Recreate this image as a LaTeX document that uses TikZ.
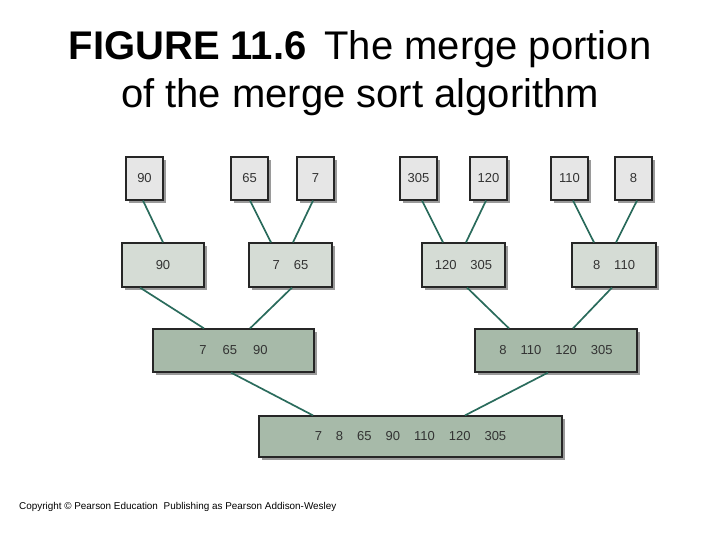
\documentclass[tikz,border=0pt]{standalone}
\usepackage{fontspec}
\setmainfont{Liberation Sans}
\usetikzlibrary{shadows}
\definecolor{boxtop}{HTML}{E6E6E6}
\definecolor{boxmid}{HTML}{D5DCD5}
\definecolor{boxlow}{HTML}{A7BAA9}
\definecolor{linkc}{HTML}{2A6B5C}
\definecolor{shadowc}{HTML}{9A9A9A}
\definecolor{txtc}{HTML}{333333}
\begin{document}
\begin{tikzpicture}[x=1pt,y=-1pt,
  numbox/.style={draw=black!85,line width=1.2pt,inner sep=0pt,
    font=\fontsize{13}{15}\selectfont,text=txtc,
    drop shadow={shadow xshift=3pt,shadow yshift=-3pt,fill=shadowc,opacity=1}},
  leaf/.style={numbox,fill=boxtop,minimum width=37pt,minimum height=43pt},
  mid/.style={numbox,fill=boxmid,minimum height=44pt},
  low/.style={numbox,fill=boxlow,minimum height=43pt},
  link/.style={draw=linkc,line width=1.7pt}]
\useasboundingbox (0,0) rectangle (720,540);
\def\gp{\hspace{14pt}}
% title
\node[font=\fontsize{40}{48}\selectfont,align=center,text=black] (title) at (360,73)
  {\textbf{FIGURE 11.6}\hspace{0.45em}The merge portion\\of the merge sort algorithm};
% leaves
\node[leaf] (a1) at (144.5,178.5) {90};
\node[leaf] (a2) at (249.5,178.5) {65};
\node[leaf] (a3) at (315.5,178.5) {7};
\node[leaf] (a4) at (418.5,178.5) {305};
\node[leaf] (a5) at (488.5,178.5) {120};
\node[leaf] (a6) at (569.5,178.5) {110};
\node[leaf] (a7) at (633.5,178.5) {8};
% level 2
\node[mid,minimum width=82pt] (b1) at (163,265) {90};
\node[mid,minimum width=83pt] (b2) at (290.5,265) {7\gp 65};
\node[mid,minimum width=83pt] (b3) at (463.5,265) {120\gp 305};
\node[mid,minimum width=84pt] (b4) at (614,265) {8\gp 110};
% level 3
\node[low,minimum width=161pt] (c1) at (233.5,350.5) {7\hspace{16pt}65\hspace{16pt}90};
\node[low,minimum width=162pt] (c2) at (556,350.5) {8\gp 110\gp 120\gp 305};
% level 4
\node[low,minimum width=303pt,minimum height=41pt] (d) at (410.5,436.5)
  {7\gp 8\gp 65\gp 90\gp 110\gp 120\gp 305};
% connectors
\draw[link] ([xshift=-1.5pt]a1.south) -- (b1.north);
\draw[link] ([xshift=0.5pt]a2.south) -- ([xshift=-19.5pt]b2.north);
\draw[link] ([xshift=-2.5pt]a3.south) -- ([xshift=2.5pt]b2.north);
\draw[link] ([xshift=3.5pt]a4.south) -- ([xshift=-20.5pt]b3.north);
\draw[link] ([xshift=-2.5pt]a5.south) -- ([xshift=2.5pt]b3.north);
\draw[link] ([xshift=3.5pt]a6.south) -- ([xshift=-20pt]b4.north);
\draw[link] ([xshift=3.5pt]a7.south) -- ([xshift=2pt]b4.north);
\draw[link] ([xshift=-23pt]b1.south) -- ([xshift=-29.5pt]c1.north);
\draw[link] ([xshift=1.5pt]b2.south) -- ([xshift=16.5pt]c1.north);
\draw[link] ([xshift=3.5pt]b3.south) -- ([xshift=-47pt]c2.north);
\draw[link] ([xshift=-2pt]b4.south) -- ([xshift=17pt]c2.north);
\draw[link] ([xshift=-2.5pt]c1.south) -- ([xshift=-97.5pt]d.north);
\draw[link] ([xshift=-8pt]c2.south) -- ([xshift=54.5pt]d.north);
% copyright
\node[anchor=west,font=\fontsize{9.9}{11}\selectfont,inner sep=0pt] (copy) at (19,507)
  {Copyright © Pearson Education\hspace{0.3em} Publishing as Pearson Addison-Wesley};
\end{tikzpicture}
\end{document}
